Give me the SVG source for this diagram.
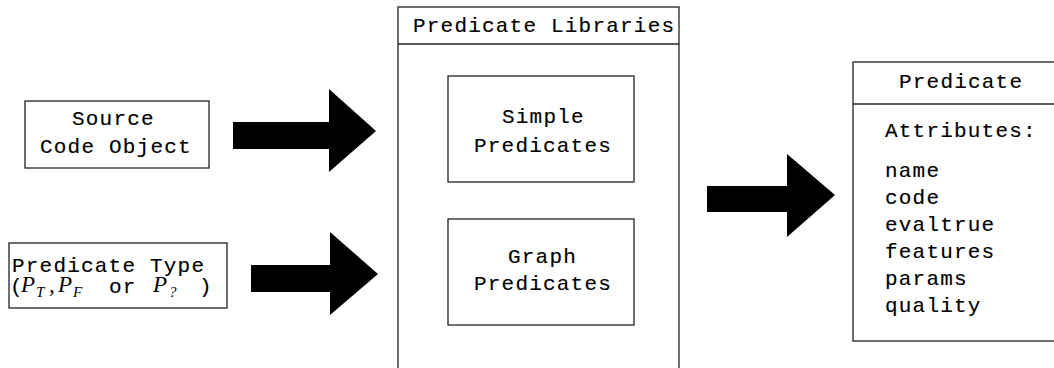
<svg xmlns="http://www.w3.org/2000/svg" width="1054" height="368" viewBox="0 0 1054 368">
  <style>
    .box { fill: #fff; stroke: #222; stroke-width: 1.3; }
    .rule { stroke: #222; stroke-width: 1.3; }
    .tt { font-family: "Liberation Mono", "DejaVu Sans Mono", monospace; font-size: 21px; letter-spacing: 1.2px; fill: #000; stroke: #000; stroke-width: 0.15; }
    .mi { font-family: "Liberation Serif", "DejaVu Serif", serif; font-style: italic; fill: #000; }
    .big { font-size: 23px; }
    .sub { font-size: 15px; }
    .arrow { fill: #000; }
  </style>

  <!-- block arrows -->
  <g id="connectors">
    <polygon class="arrow" points="233,122 329,122 329,89 376,131 329,172 329,149 233,149"/>
    <polygon class="arrow" points="251,265 330,265 330,232 378,274 330,315 330,292 251,292"/>
    <polygon class="arrow" points="707,186 787,186 787,154 835,195 787,237 787,212 707,212"/>
  </g>

  <g id="source-code-object">
    <rect class="box" x="25" y="101" width="184" height="67"/>
    <text class="tt" x="72" y="125">Source</text>
    <text class="tt" x="40" y="153">Code Object</text>
  </g>

  <g id="predicate-type">
    <rect class="box" x="9" y="243" width="218" height="65"/>
    <text class="tt" x="12" y="272">Predicate Type</text>
    <text class="tt" x="10" y="293">(</text>
    <text class="mi big" x="21" y="292">P</text>
    <text class="mi sub" x="36" y="297">T</text>
    <text class="mi big" x="49" y="292" font-style="normal">,</text>
    <text class="mi big" x="58" y="292">P</text>
    <text class="mi sub" x="73" y="297">F</text>
    <text class="tt" x="109" y="293">or</text>
    <text class="mi big" x="153" y="292">P</text>
    <text class="mi sub" x="169" y="297" font-style="normal">?</text>
    <text class="tt" x="199" y="293">)</text>
  </g>

  <g id="predicate-libraries">
    <rect class="box" x="398" y="7" width="281" height="380"/>
    <line class="rule" x1="398" y1="44" x2="679" y2="44"/>
    <text class="tt" x="413" y="32">Predicate Libraries</text>
    <g id="simple-predicates">
      <rect class="box" x="448" y="76" width="186" height="106"/>
      <text class="tt" x="502" y="123">Simple</text>
      <text class="tt" x="474" y="152">Predicates</text>
    </g>
    <g id="graph-predicates">
      <rect class="box" x="448" y="219" width="186" height="106"/>
      <text class="tt" x="508" y="263">Graph</text>
      <text class="tt" x="474" y="290">Predicates</text>
    </g>
  </g>

  <g id="predicate">
    <rect class="box" x="853" y="62" width="220" height="279"/>
    <line class="rule" x1="853" y1="104" x2="1060" y2="104"/>
    <text class="tt" x="899" y="88">Predicate</text>
    <text class="tt" x="885" y="137">Attributes:</text>
    <text class="tt" x="885" y="177">name</text>
    <text class="tt" x="885" y="204">code</text>
    <text class="tt" x="885" y="231">evaltrue</text>
    <text class="tt" x="885" y="258">features</text>
    <text class="tt" x="885" y="285">params</text>
    <text class="tt" x="885" y="312">quality</text>
  </g>
</svg>
